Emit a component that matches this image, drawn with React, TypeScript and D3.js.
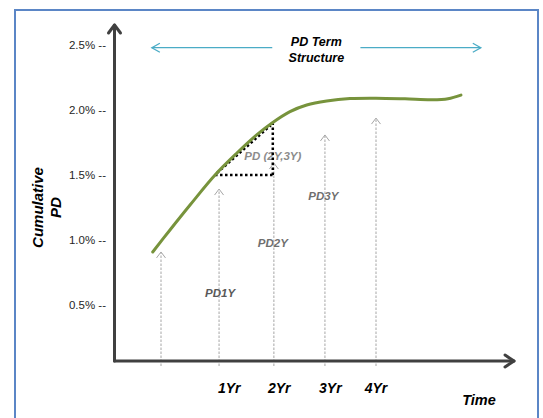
import React from "react";
import * as d3 from "d3";

// ---- data ----
const curveYears = [-0.154, 0.167, 0.54, 1.005, 1.408, 1.78, 2.06, 2.4, 2.711, 3.083, 3.516, 4.0, 4.54, 5.04, 5.34, 5.58];
const curvePD = [0.908, 1.077, 1.269, 1.5, 1.667, 1.808, 1.898, 1.987, 2.038, 2.069, 2.088, 2.091, 2.086, 2.079, 2.087, 2.115];

const markerYears = [0, 1.08, 2.1, 3.05, 4];
const markerTipPD = [0.908, 1.392, 1.592, 1.808, 1.938];

const yTicks = [0.5, 1.0, 1.5, 2.0, 2.5];
const xTickLabels = ["1Yr", "2Yr", "3Yr", "4Yr"];
const xLabelYears = [1.27, 2.2, 3.15, 4.0];

const pdLabels = ["PD1Y", "PD2Y", "PD3Y", "PD (2Y,3Y)"];
const pdLabelYears = [1.1, 2.08, 3.02, 2.08];
const pdLabelPD = [0.592, 0.977, 1.338, 1.646];
const pdLabelColors = ["#595959", "#6f6f6f", "#6f6f6f", "#8c8c8c"];

const triYears = [1.005, 2.08];
const triPD = [1.5, 1.898];

const termSpanYears = [-0.17, 5.95];
const termGapYears = [2.07, 3.71];

const FONT = "'Liberation Sans', Arial, sans-serif";

export default function App() {
  const W = 543, H = 418;
  const x = d3.scaleLinear().domain([0, 4]).range([161, 376]);
  const y = d3.scaleLinear().domain([0.5, 2.5]).range([305, 45]);

  const axisX = 114.5;
  const axisY = 361;
  const axisTop = 24;
  const axisRight = 515;

  const pts = curveYears.map((t, i) => [x(t), y(curvePD[i])] as [number, number]);
  const line = d3.line().curve(d3.curveCatmullRom.alpha(0.5));
  const curvePath = line(pts) || "";

  const termY = 47.7;
  const tx0 = x(termSpanYears[0]), tx1 = x(termSpanYears[1]);
  const g0 = x(termGapYears[0]), g1 = x(termGapYears[1]);
  const termCenter = (g0 + g1) / 2;

  const t1x = x(triYears[0]), t2x = x(triYears[1]);
  const t1y = y(triPD[0]), t2y = y(triPD[1]);

  return (
    <svg
      width={W}
      height={H}
      style={{ position: "absolute", left: 0, top: 0, background: "#fff" }}
    >
      <rect x={0} y={0} width={W} height={H} fill="#fff" />
      {/* frame */}
      <rect x={15} y={10} width={523} height={430} fill="none" stroke="#5b86c6" strokeWidth={2} />

      {/* vertical dashed arrows */}
      {markerYears.map((t, i) => {
        const mx = x(t);
        const ty = y(markerTipPD[i]);
        return (
          <g key={"m" + i} stroke="#a6a6a6" fill="none" strokeWidth={1}>
            <line x1={mx} x2={mx} y1={366} y2={ty + 1} strokeDasharray="2.5,1.5" />
            <polyline points={`${mx - 4.5},${ty + 6} ${mx},${ty} ${mx + 4.5},${ty + 6}`} />
          </g>
        );
      })}

      {/* PD labels */}
      {pdLabels.map((s, i) => (
        <text
          key={"l" + i}
          x={x(pdLabelYears[i])}
          y={y(pdLabelPD[i])}
          dy="0.35em"
          textAnchor="middle"
          fontFamily={FONT}
          fontStyle="italic"
          fontWeight="bold"
          fontSize={11.5}
          fill={pdLabelColors[i]}
        >
          {s}
        </text>
      ))}

      {/* dotted triangle */}
      <g stroke="#000" strokeWidth={2.5} fill="none" strokeDasharray="2.5,2.5">
        <line x1={t1x} y1={t1y} x2={t2x} y2={t1y} />
        <line x1={t2x} y1={t1y} x2={t2x} y2={t2y} />
        <line x1={t1x + 2} y1={t1y - 2} x2={t2x - 2} y2={t2y + 2} />
      </g>

      {/* curve */}
      <path d={curvePath} fill="none" stroke="#77933c" strokeWidth={3} strokeLinecap="round" />

      {/* axes */}
      <g stroke="#404040" strokeWidth={3} fill="none" strokeLinecap="round" strokeLinejoin="round">
        <line x1={axisX} y1={axisY} x2={axisX} y2={axisTop + 1} />
        <polyline points={`${axisX - 6},${axisTop + 9} ${axisX},${axisTop + 1} ${axisX + 6},${axisTop + 9}`} />
        <line x1={axisX} y1={axisY} x2={axisRight - 1} y2={axisY} />
        <polyline points={`${axisRight - 10},${axisY - 6} ${axisRight - 1},${axisY} ${axisRight - 10},${axisY + 6}`} />
      </g>

      {/* y tick labels */}
      {yTicks.map((v) => (
        <text
          key={"y" + v}
          x={106}
          y={y(v)}
          dy="0.35em"
          textAnchor="end"
          fontFamily={FONT}
          fontSize={11.5}
          fill="#262626"
        >
          {v.toFixed(1) + "% --"}
        </text>
      ))}

      {/* x tick labels */}
      {xTickLabels.map((s, i) => (
        <text
          key={"x" + i}
          x={x(xLabelYears[i])}
          y={393}
          textAnchor="middle"
          fontFamily={FONT}
          fontStyle="italic"
          fontWeight="bold"
          fontSize={14}
          fill="#000"
        >
          {s}
        </text>
      ))}

      <text x={479} y={405} textAnchor="middle" fontFamily={FONT} fontStyle="italic" fontWeight="bold" fontSize={14.5} fill="#000">
        Time
      </text>

      {/* y title */}
      <g transform="translate(0,207.5) rotate(-90)">
        <text x={0} y={42.5} textAnchor="middle" fontFamily={FONT} fontStyle="italic" fontWeight="bold" fontSize={15} fill="#000">
          Cumulative
        </text>
        <text x={0} y={60.5} textAnchor="middle" fontFamily={FONT} fontStyle="italic" fontWeight="bold" fontSize={15} fill="#000">
          PD
        </text>
      </g>

      {/* PD term structure arrow */}
      <g stroke="#4bacc6" strokeWidth={1.3} fill="none">
        <line x1={tx0} y1={termY} x2={g0} y2={termY} />
        <line x1={g1} y1={termY} x2={tx1} y2={termY} />
        <polyline points={`${tx0 + 8},${termY - 4.5} ${tx0},${termY} ${tx0 + 8},${termY + 4.5}`} />
        <polyline points={`${tx1 - 8},${termY - 4.5} ${tx1},${termY} ${tx1 - 8},${termY + 4.5}`} />
      </g>
      <text x={termCenter} y={46} textAnchor="middle" fontFamily={FONT} fontStyle="italic" fontWeight="bold" fontSize={12.5} fill="#000">
        PD Term
      </text>
      <text x={termCenter} y={62} textAnchor="middle" fontFamily={FONT} fontStyle="italic" fontWeight="bold" fontSize={12.5} fill="#000">
        Structure
      </text>
    </svg>
  );
}
